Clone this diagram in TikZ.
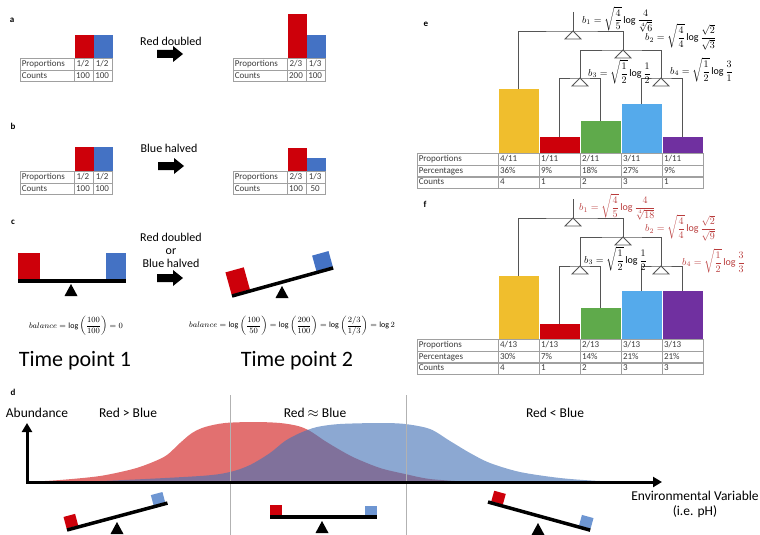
\documentclass[tikz,border=0pt]{standalone}
\usepackage{amsmath}
\usepackage{fontspec}
\setmainfont{Carlito}
\usetikzlibrary{matrix,arrows.meta,positioning}

\definecolor{cred}{RGB}{205,0,10}
\definecolor{cblue}{RGB}{68,114,196}
\definecolor{lblue}{RGB}{110,150,210}
\definecolor{cyellow}{RGB}{240,190,45}
\definecolor{cgreen}{RGB}{95,170,75}
\definecolor{csky}{RGB}{85,170,235}
\definecolor{cpurple}{RGB}{112,48,160}
\definecolor{gridgray}{RGB}{160,160,160}
\definecolor{txtgray}{RGB}{60,60,60}
\definecolor{treegray}{RGB}{85,85,85}
\definecolor{fred}{RGB}{185,60,60}
\definecolor{areared}{RGB}{226,112,112}
\definecolor{areablue}{RGB}{69,115,182}

\tikzset{
  tbl/.style={matrix of nodes, inner sep=0pt, outer sep=0pt, anchor=north west,
    row sep=-\pgflinewidth, column sep=-\pgflinewidth,
    nodes={draw=gridgray, line width=0.6pt, text=txtgray, font=\fontsize{9}{10}\selectfont,
      inner sep=0pt, text height=6.3pt, text depth=1.8pt, minimum height=11.6pt}},
  smalltbl/.style={tbl, nodes={minimum width=19pt, align=center},
    column 1/.style={nodes={text width=51pt, align=left, inner xsep=1.5pt}}},
  bigtbl/.style={tbl, nodes={text width=37.8pt, inner xsep=1.5pt, align=left},
    column 1/.style={nodes={text width=78pt}}},
  panel/.style={font=\bfseries\fontsize{9}{10}\selectfont, inner sep=0pt},
  caption/.style={font=\fontsize{12}{13}\selectfont, align=center, inner sep=0pt},
  bigcap/.style={font=\fontsize{22}{24}\selectfont, inner sep=0pt},
  dtext/.style={font=\fontsize{13.5}{15}\selectfont, inner sep=0pt},
  balform/.style={font=\fontsize{8}{9}\selectfont, inner sep=0pt},
  formula/.style={font=\fontsize{10}{12}\selectfont, anchor=west, inner sep=0pt},
  treeline/.style={draw=treegray, line width=0.8pt},
  beam/.style={line width=3.5pt},
  axis/.style={line width=3pt, line join=miter},
  divider/.style={draw=gray!60, line width=0.6pt},
  wedge/.pic={\draw[treeline, fill=white] (0,0) -- (-8,8) -- (8,8) -- cycle;},
  pivot/.pic={\fill (0,0) -- (-6.5,12) -- (6.5,12) -- cycle;},
  fatarrow/.pic={\fill (0,-4) -- (16,-4) -- (16,-8) -- (26,0) -- (16,8) -- (16,4) -- (0,4) -- cycle;}
}

\begin{document}
\begin{tikzpicture}[x=1pt, y=-1pt]
  \useasboundingbox (0,0) rectangle (760,535);

  % panel a
  \node[panel] (la) at (12,20) {a};
  \matrix (ta1) [smalltbl] at (20,58) {
    Proportions & 1/2 & 1/2 \\
    Counts & 100 & 100 \\
  };
  \fill[cred] (ta1-1-2.north west) rectangle ++(19,-23);
  \fill[cblue] (ta1-1-3.north west) rectangle ++(19,-23);
  \node[caption] (ca) at (171,41) {Red doubled};
  \pic at (157,54) {fatarrow};
  \matrix (ta2) [smalltbl] at (233,58) {
    Proportions & 2/3 & 1/3 \\
    Counts & 200 & 100 \\
  };
  \fill[cred] (ta2-1-2.north west) rectangle ++(19,-44);
  \fill[cblue] (ta2-1-3.north west) rectangle ++(19,-23);

  % panel b
  \node[panel] (lb) at (13,126) {b};
  \matrix (tb1) [smalltbl] at (20,171) {
    Proportions & 1/2 & 1/2 \\
    Counts & 100 & 100 \\
  };
  \fill[cred] (tb1-1-2.north west) rectangle ++(19,-24);
  \fill[cblue] (tb1-1-3.north west) rectangle ++(19,-24);
  \node[caption] (cb) at (169,148) {Blue halved};
  \pic at (158,166) {fatarrow};
  \matrix (tb2) [smalltbl] at (233,171) {
    Proportions & 2/3 & 1/3 \\
    Counts & 100 & 50 \\
  };
  \fill[cred] (tb2-1-2.north west) rectangle ++(19,-23);
  \fill[cblue] (tb2-1-3.north west) rectangle ++(19,-13);

  % panel c
  \node[panel] (lc) at (13,222) {c};
  \fill[cred] (18,253) rectangle (40,279.5);
  \fill[cblue] (106,253) rectangle (126,279.5);
  \draw[beam] (18,281) -- (126,281);
  \pic at (71,284) {pivot};
  \node[caption] (cc) at (171,250) {Red doubled\\or\\Blue halved};
  \pic at (157,278) {fatarrow};
  \begin{scope}[shift={(232,296)}, rotate=15.5]
    \fill[cred] (0,-1.5) rectangle (19,-24.5);
    \fill[cblue] (88,-1.5) rectangle (105,-17.5);
    \draw[beam] (0,0) -- (105,0);
  \end{scope}
  \pic at (282,286) {pivot};
  \node[balform] (bal1) at (76,326) {$\displaystyle balance=\log\left(\frac{100}{100}\right)=0$};
  \node[balform] (bal2) at (292,326) {$\displaystyle balance=\log\left(\frac{100}{50}\right)=\log\left(\frac{200}{100}\right)=\log\left(\frac{2/3}{1/3}\right)=\log 2$};
  \node[bigcap] (tp1) at (75,361) {Time point 1};
  \node[bigcap] (tp2) at (297,361) {Time point 2};

  % panel d
  \node[panel] (ld) at (13,392) {d};
  \fill[areared] plot[smooth] coordinates {(27,482) (60,480) (100,476) (133,469) (153,462)
    (167,455) (180,443) (192,433) (205,427) (225,423) (255,422) (280,423) (298,426)
    (310,431) (325,441) (340,450) (355,458) (380,468) (405,474) (430,479) (470,482)} -- cycle;
  \fill[areablue, fill opacity=0.62] plot[smooth] coordinates {(27,482) (100,481) (200,476)
    (230,472) (250,465) (270,453) (285,441) (300,433) (317,427) (340,424) (380,423)
    (405,424) (430,429) (450,441) (470,453) (490,463) (520,472) (560,478) (600,481) (640,482)} -- cycle;
  \draw[divider] (230,395) -- (230,535);
  \draw[divider] (406,395) -- (406,535);
  \coordinate (origin) at (27,482);
  \coordinate (ytip) at (27,423);
  \coordinate (xtip) at (662,482);
  \draw[axis, {Triangle[length=9pt,width=10pt]}-{Triangle[length=9pt,width=10pt]}] (ytip) -- (origin) -- (xtip);
  \node[dtext] (abund) at (37,413) {Abundance};
  \node[dtext] (rgb) at (128,413) {Red > Blue};
  \node[dtext] (req) at (315,413) {Red $\approx$ Blue};
  \node[dtext] (rlb) at (555,413) {Red < Blue};
  \node[dtext, align=center] (envvar) at (695,504) {Environmental Variable\\(i.e. pH)};
  % seesaws
  \begin{scope}[shift={(67,530)}, rotate=15]
    \fill[cred] (0,-1.5) rectangle (12,-13.5);
    \fill[lblue] (90,-1.5) rectangle (102,-12);
    \draw[beam] (0,0) -- (104,0);
  \end{scope}
  \pic at (117,522) {pivot};
  \fill[cred] (270,505) rectangle (282,515.5);
  \fill[lblue] (365,505.5) rectangle (377,515.5);
  \draw[beam] (270,517) -- (377,517);
  \pic at (322,521) {pivot};
  \begin{scope}[shift={(488,502)}, rotate=-15.4]
    \fill[cred] (3,-1.5) rectangle (15,-12.5);
    \fill[lblue] (94,-1.5) rectangle (106,-12.5);
    \draw[beam] (0,0) -- (106,0);
  \end{scope}
  \pic at (538,523) {pivot};

  % panel e
  \node[panel] (le) at (426,24) {e};
  \matrix (te) [bigtbl] at (417,153) {
    Proportions & 4/11 & 1/11 & 2/11 & 3/11 & 1/11 \\
    Percentages & 36\% & 9\% & 18\% & 27\% & 9\% \\
    Counts & 4 & 1 & 2 & 3 & 1 \\
  };
  \fill[cyellow] (te-1-2.north west) rectangle ++(40.8,-64);
  \fill[cred] (te-1-3.north west) rectangle ++(40.8,-16);
  \fill[cgreen] (te-1-4.north west) rectangle ++(40.8,-32);
  \fill[csky] (te-1-5.north west) rectangle ++(40.8,-49);
  \fill[cpurple] (te-1-6.north west) rectangle ++(40.8,-16);
  \coordinate (e0) at (573,12);
  \coordinate (e1) at (573,31);
  \coordinate (e2) at (623,50);
  \coordinate (e3) at (580,78);
  \coordinate (e4) at (661,78);
  \coordinate (eY) at (518.5,89);
  \coordinate (eR) at (559,137);
  \coordinate (eG) at (600,121);
  \coordinate (eB) at (641,104);
  \coordinate (eP) at (682,137);
  \draw[treeline] (e0) -- (e1);
  \draw[treeline] (eY) |- (e1) -| (e2);
  \draw[treeline] (e3) |- (e2) -| (e4);
  \draw[treeline] (eR) |- (e3) -| (eG);
  \draw[treeline] (eB) |- (e4) -| (eP);
  \pic at (e1) {wedge};
  \pic at (e2) {wedge};
  \pic at (e3) {wedge};
  \pic at (e4) {wedge};
  \node[formula] (eb1) at (582,19.5) {$\displaystyle b_1=\sqrt{\frac{4}{5}}\log\frac{4}{\sqrt[4]{6}}$};
  \node[formula] (eb2) at (645,37) {$\displaystyle b_2=\sqrt{\frac{4}{4}}\log\frac{\sqrt{2}}{\sqrt{3}}$};
  \node[formula] (eb3) at (588,72) {$\displaystyle b_3=\sqrt{\frac{1}{2}}\log\frac{1}{2}$};
  \node[formula] (eb4) at (670,70) {$\displaystyle b_4=\sqrt{\frac{1}{2}}\log\frac{3}{1}$};

  % panel f
  \node[panel] (lf) at (425,204) {f};
  \matrix (tf) [bigtbl] at (417,339) {
    Proportions & 4/13 & 1/13 & 2/13 & 3/13 & 3/13 \\
    Percentages & 30\% & 7\% & 14\% & 21\% & 21\% \\
    Counts & 4 & 1 & 2 & 3 & 3 \\
  };
  \fill[cyellow] (tf-1-2.north west) rectangle ++(40.8,-63);
  \fill[cred] (tf-1-3.north west) rectangle ++(40.8,-15);
  \fill[cgreen] (tf-1-4.north west) rectangle ++(40.8,-31);
  \fill[csky] (tf-1-5.north west) rectangle ++(40.8,-48);
  \fill[cpurple] (tf-1-6.north west) rectangle ++(40.8,-48);
  \coordinate (f0) at (573,199);
  \coordinate (f1) at (573,218);
  \coordinate (f2) at (623,237);
  \coordinate (f3) at (580,266);
  \coordinate (f4) at (661,266);
  \coordinate (fY) at (518.5,276);
  \coordinate (fR) at (559,324);
  \coordinate (fG) at (600,308);
  \coordinate (fB) at (641,291);
  \coordinate (fP) at (682,291);
  \draw[treeline] (f0) -- (f1);
  \draw[treeline] (fY) |- (f1) -| (f2);
  \draw[treeline] (f3) |- (f2) -| (f4);
  \draw[treeline] (fR) |- (f3) -| (fG);
  \draw[treeline] (fB) |- (f4) -| (fP);
  \pic at (f1) {wedge};
  \pic at (f2) {wedge};
  \pic at (f3) {wedge};
  \pic at (f4) {wedge};
  \node[formula, text=fred] (fb1) at (579,207) {$\displaystyle b_1=\sqrt{\frac{4}{5}}\log\frac{4}{\sqrt[4]{18}}$};
  \node[formula, text=fred] (fb2) at (645,228) {$\displaystyle b_2=\sqrt{\frac{4}{4}}\log\frac{\sqrt{2}}{\sqrt{9}}$};
  \node[formula] (fb3) at (584,259) {$\displaystyle b_3=\sqrt{\frac{1}{2}}\log\frac{1}{2}$};
  \node[formula, text=fred] (fb4) at (682,261) {$\displaystyle b_4=\sqrt{\frac{1}{2}}\log\frac{3}{3}$};
\end{tikzpicture}
\end{document}
